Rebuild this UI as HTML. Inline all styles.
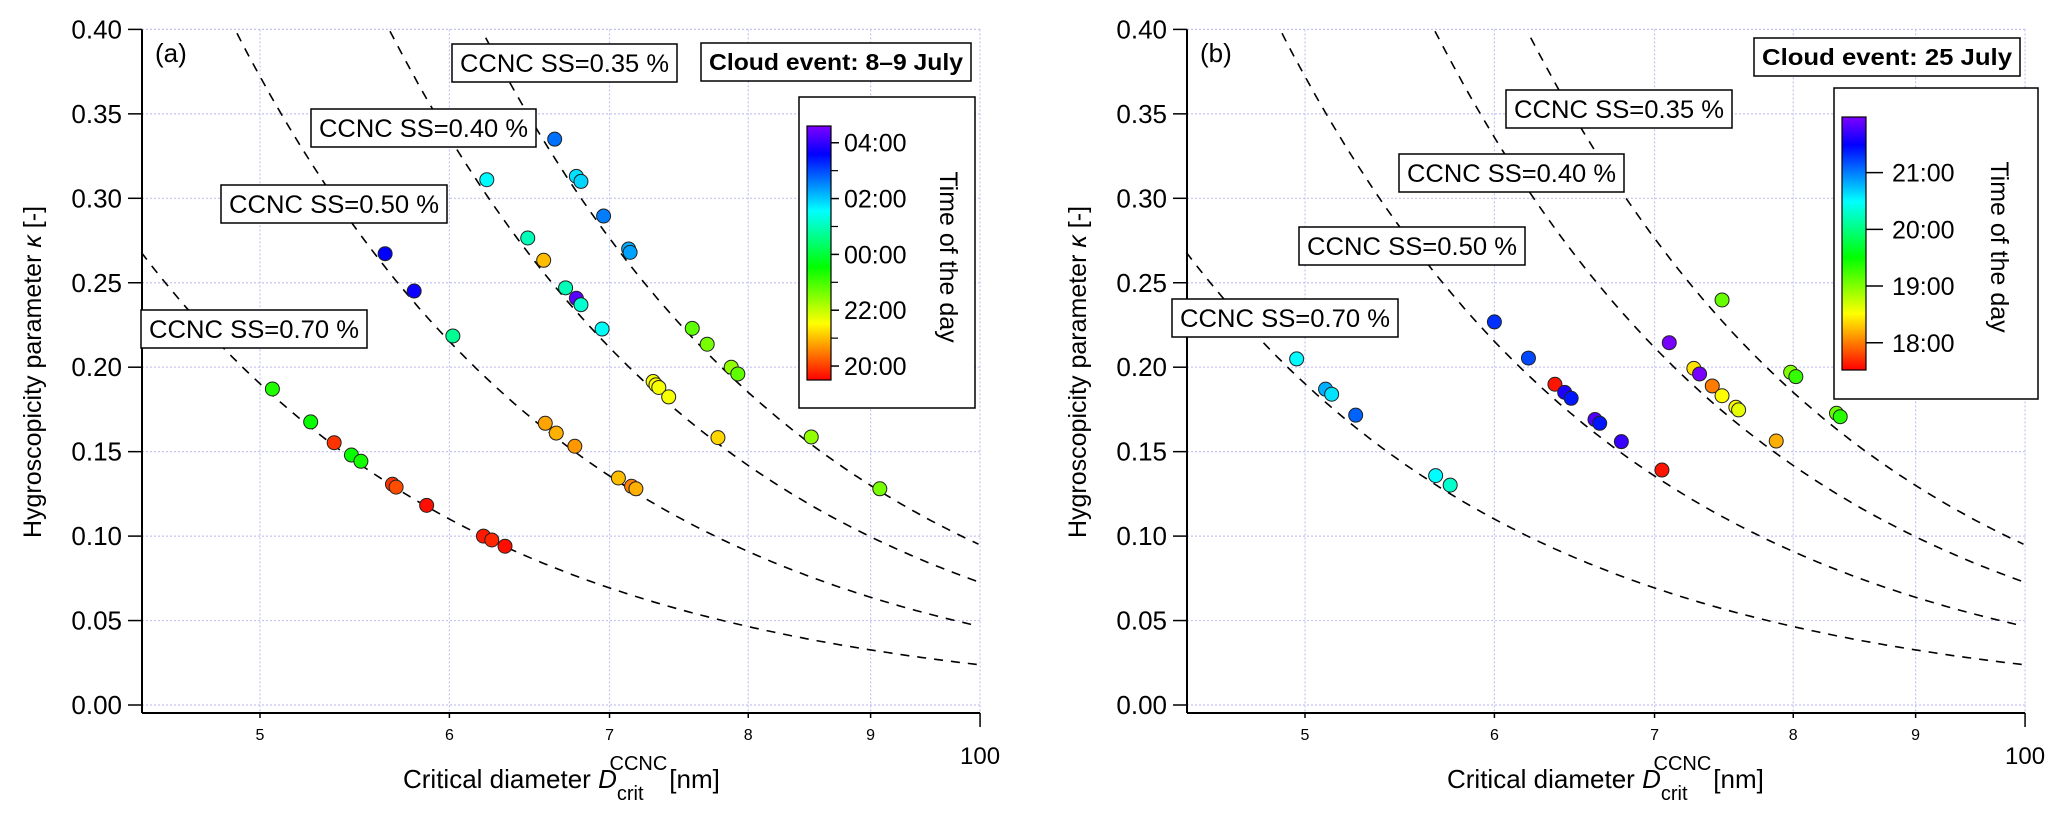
<!DOCTYPE html>
<html><head><meta charset="utf-8"><style>
body{margin:0;background:#fff;}
svg{display:block;font-family:"Liberation Sans",sans-serif;}
</style></head><body>
<svg id="fig" width="2067" height="816" viewBox="0 0 2067 816" xmlns="http://www.w3.org/2000/svg"></svg>
<script>
// ---- data: panel (a) 8–9 July ----
const ssLevels = [0.35, 0.40, 0.50, 0.70];
const curveConst = [94780, 72600, 46510, 23775];
const aD = [66.4,67.8,68.1,69.6,71.3,71.4,75.8,76.9,78.7,79.2,85.0,90.8,
  62.2,64.7,65.7,67.1,67.8,68.1,69.5,73.0,73.2,73.4,74.1,77.7,
  56.4,58.0,60.2,65.8,66.5,67.7,70.6,71.5,71.8,
  50.6,52.5,53.7,54.6,55.1,56.8,57.0,58.7,62.0,62.5,63.3];
const aKappa = [0.335,0.313,0.310,0.2895,0.270,0.268,0.223,0.2136,0.200,0.196,0.1587,0.128,
  0.311,0.2765,0.2633,0.247,0.2408,0.237,0.2226,0.1915,0.1895,0.188,0.1824,0.1583,
  0.2672,0.2451,0.2185,0.1668,0.161,0.1532,0.1344,0.1295,0.128,
  0.1871,0.1676,0.1553,0.148,0.1443,0.1307,0.129,0.1182,0.100,0.0977,0.094];
const aTime = [26.7,25.8,25.9,26.6,26.2,26.3,22.8,22.6,22.4,22.8,22.4,22.6,
  25.6,25.0,21.0,25.0,28.3,25.2,25.5,21.6,21.5,21.6,21.6,21.2,
  27.6,27.7,24.7,20.8,20.9,20.7,21.0,20.5,20.9,
  23.3,23.5,19.9,23.5,23.4,19.9,20.1,19.6,19.7,19.8,19.6];
const aTimeRange = [19.5, 28.6];
const aTicks = [20,22,24,26,28];
const aTickLabels = ["20:00","22:00","00:00","02:00","04:00"];
// ---- data: panel (b) 25 July ----
const bD = [49.6,51.0,51.3,52.5,56.7,57.5,
  60.0,62.0,63.6,64.2,64.6,66.1,66.4,67.8,70.5,
  71.0,72.7,73.1,74.0,74.7,75.7,75.9,78.7,
  74.7,79.8,80.2,83.4,83.7];
const bKappa = [0.2049,0.187,0.184,0.1716,0.1358,0.1302,
  0.2268,0.2054,0.1899,0.1851,0.1816,0.169,0.1668,0.1559,0.1391,
  0.2145,0.1993,0.196,0.1889,0.1831,0.1763,0.1747,0.1563,
  0.2398,0.197,0.1944,0.1727,0.1707];
const bTime = [20.5,20.8,20.6,21.1,20.5,20.3,
  21.3,21.2,17.6,21.6,21.4,21.8,21.4,21.7,17.6,
  21.95,18.4,21.95,18.0,18.5,18.5,18.6,18.2,
  19.1,19.0,19.3,19.1,19.35];
const bTimeRange = [17.52, 21.98];
const bTicks = [18,19,20,21];
const bTickLabels = ["18:00","19:00","20:00","21:00"];
const xTicks = [50,60,70,80,90];
const xTickLabels = ["5","6","7","8","9"];
const yTicks = [0,0.05,0.10,0.15,0.20,0.25,0.30,0.35,0.40];

const NS="http://www.w3.org/2000/svg";
const svg=document.getElementById('fig');
function mk(tag,attrs,parent,text){const e=document.createElementNS(NS,tag);for(const k in attrs)e.setAttribute(k,attrs[k]);if(text!==undefined)e.textContent=text;(parent||svg).appendChild(e);return e;}
const Y0=705, YPX=1689, XPD=2392, AXB=713;
function yS(k){return Y0-k*YPX;}
function hue(t,r){let h=(t-r[0])/(r[1]-r[0])*270;return Math.max(0,Math.min(270,h));}
function col(t,r){return 'hsl('+hue(t,r).toFixed(1)+',100%,50%)';}

function panel(cfg){
  const off=cfg.off;
  const xS=d=>off+260+(Math.log10(d)-Math.log10(50))*XPD;
  const L=off+142, R=xS(100);
  const g=mk('g',{});
  
  
  // grid
  const grid=mk('g',{stroke:'#c4c4f4','stroke-width':1.2,'stroke-dasharray':'2,2'},g);
  
  
  yTicks.forEach(v=>mk('line',{x1:L,x2:R,y1:yS(v),y2:yS(v)},grid));
  xTicks.concat([100]).forEach(v=>mk('line',{x1:xS(v),x2:xS(v),y1:yS(0.4),y2:AXB},grid));
  // curves
  const cg=mk('g',{fill:'none',stroke:'#000','stroke-width':1.6,'stroke-dasharray':'9,8'},g);
  curveConst.forEach((c,i)=>{
    let pts=[];
    for(let lx=Math.log10(44.6);lx<=2.0001;lx+=0.002){const d=Math.pow(10,lx);const k=c/(d*d*d);if(k>0.4)continue;pts.push(xS(d).toFixed(1)+','+yS(k).toFixed(1));}
    const p=mk('polyline',{points:pts.join(' ')},cg);
    
    
  });
  // axes
  mk('line',{x1:L,x2:L,y1:yS(0.4),y2:AXB,stroke:'#000','stroke-width':2},g);
  mk('line',{x1:L,x2:R,y1:AXB,y2:AXB,stroke:'#000','stroke-width':2},g);
  yTicks.forEach(v=>{
    mk('line',{x1:L-14,x2:L,y1:yS(v),y2:yS(v),stroke:'#000','stroke-width':1.5},g);
    const t=mk('text',{x:L-20,y:yS(v)+9,'text-anchor':'end','font-size':26},g,v.toFixed(2));
    
    
  });
  xTicks.forEach((v,i)=>{
    mk('line',{x1:xS(v),x2:xS(v),y1:AXB,y2:AXB+5,stroke:'#000','stroke-width':1.5},g);
    const t=mk('text',{x:xS(v),y:AXB+27,'text-anchor':'middle','font-size':16},g,xTickLabels[i]);
    
    
  });
  mk('line',{x1:R,x2:R,y1:AXB,y2:AXB+14,stroke:'#000','stroke-width':1.5},g);
  const h=mk('text',{x:R,y:764,'text-anchor':'middle','font-size':24},g,'100');
  
  
  // axis titles
  const yt=mk('text',{transform:'translate('+(off+41)+',372) rotate(-90)','text-anchor':'middle','font-size':25},g);
  
  
  yt.innerHTML='Hygroscopicity parameter <tspan font-style="italic">κ</tspan> [-]';
  const xt=mk('text',{x:off+403+(cfg.id==='b'?-1:0),y:788,'font-size':26},g);
  
  
  xt.innerHTML='Critical diameter <tspan font-style="italic">D</tspan><tspan font-size="20" dy="12">crit</tspan><tspan font-size="20" dx="-34" dy="-30">CCNC</tspan><tspan dy="18" dx="2">[nm]</tspan>';
  // panel letter
  const pl=mk('text',{x:off+155,y:62,'font-size':26},g,'('+cfg.id+')');
  
  
  // SS boxes
  cfg.boxes.forEach(b=>{
    const bg=mk('g',{},g);
    
    
    mk('rect',{x:b.x,y:b.y,width:b.w,height:38,fill:'#fff',stroke:'#000','stroke-width':1.5},bg);
    mk('text',{x:b.x+b.w/2,y:b.y+28,'text-anchor':'middle','font-size':25,textLength:b.w-16,lengthAdjust:'spacingAndGlyphs'},bg,b.t);
  });
  // cloud box
  const c=cfg.cloud;
  const cb=mk('g',{},g);
  
  
  mk('rect',{x:c.x,y:c.y,width:c.w,height:38,fill:'#fff',stroke:'#000','stroke-width':1.5},cb);
  mk('text',{x:c.x+c.w/2,y:c.y+27,'text-anchor':'middle','font-size':23,'font-weight':'bold',textLength:c.w-16,lengthAdjust:'spacingAndGlyphs'},cb,c.t);
  // points
  const pg=mk('g',{},g);
  
  
  cfg.D.forEach((d,i)=>{
    const ci=mk('circle',{cx:xS(d),cy:yS(cfg.K[i]),r:7,fill:col(cfg.T[i],cfg.range),stroke:'#222','stroke-width':1},pg);
    
    
  });
  // colorbar legend
  const lg=cfg.leg;
  const lgg=mk('g',{},g);
  
  
  mk('rect',{x:lg.x,y:lg.y,width:lg.w,height:lg.h,fill:'#fff',stroke:'#000','stroke-width':1.5},lgg);
  const gid='grad'+cfg.id;
  const defs=mk('defs',{},lgg);
  const lin=mk('linearGradient',{id:gid,x1:0,y1:1,x2:0,y2:0},defs);
  for(let i=0;i<=27;i++){mk('stop',{offset:(i/27),'stop-color':'hsl('+(i*10)+',100%,50%)'},lin);}
  const bar=mk('rect',{x:lg.bx,y:lg.by,width:lg.bw,height:lg.bh,fill:'url(#'+gid+')',stroke:'#000','stroke-width':1.2},lgg);
  
  
  const tY=t=>lg.by+lg.bh-(t-cfg.range[0])/(cfg.range[1]-cfg.range[0])*lg.bh;
  if(cfg.minor) cfg.minor.forEach(t=>mk('line',{x1:lg.bx+lg.bw,x2:lg.bx+lg.bw+7,y1:tY(t),y2:tY(t),stroke:'#000','stroke-width':1.2},lgg));
  cfg.ticks.forEach((t,i)=>{
    mk('line',{x1:lg.bx+lg.bw,x2:lg.bx+lg.bw+lg.tl,y1:tY(t),y2:tY(t),stroke:'#000','stroke-width':1.5},lgg);
    const tt=mk('text',{x:lg.lx,y:tY(t)+9,'font-size':25},lgg,cfg.tickLabels[i]);
    
    
  });
  const ct=mk('text',{transform:'translate('+lg.tx+','+lg.ty+') rotate(90)','text-anchor':'middle','font-size':25},lgg,'Time of the day');
  
  
}

panel({id:'a',off:0,D:aD,K:aKappa,T:aTime,range:aTimeRange,ticks:aTicks,tickLabels:aTickLabels,
  minor:[21,23,25,27],
  boxes:[{t:'CCNC SS=0.35 %',x:452,y:44,w:225},{t:'CCNC SS=0.40 %',x:311,y:109,w:225},
         {t:'CCNC SS=0.50 %',x:221,y:185,w:226},{t:'CCNC SS=0.70 %',x:141,y:310,w:226}],
  cloud:{t:'Cloud event: 8–9 July',x:701,y:43,w:270},
  leg:{x:799,y:97,w:176,h:311,bx:807,by:126,bw:24,bh:254,tl:8,lx:844,tx:940,ty:257}});
panel({id:'b',off:1045,D:bD,K:bKappa,T:bTime,range:bTimeRange,ticks:bTicks,tickLabels:bTickLabels,
  boxes:[{t:'CCNC SS=0.35 %',x:1506,y:90,w:226},{t:'CCNC SS=0.40 %',x:1399,y:154,w:225},
         {t:'CCNC SS=0.50 %',x:1299,y:227,w:226},{t:'CCNC SS=0.70 %',x:1172,y:299,w:226}],
  cloud:{t:'Cloud event: 25 July',x:1754,y:38,w:266},
  leg:{x:1834,y:88,w:204,h:311,bx:1842,by:117,bw:24,bh:253,tl:17,lx:1892,tx:1991,ty:247}});
</script>
</body></html>
